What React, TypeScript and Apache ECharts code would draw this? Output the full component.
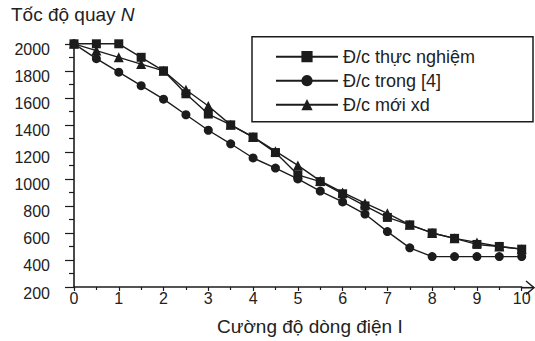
import React, { useEffect, useRef } from "react";
import * as echarts from "echarts";

const currentI = [0, 0.5, 1, 1.5, 2, 2.5, 3, 3.5, 4, 4.5, 5, 5.5, 6, 6.5, 7, 7.5, 8, 8.5, 9, 9.5, 10];
const thucNghiem = [2000, 2000, 2000, 1900, 1800, 1630, 1480, 1400, 1310, 1195, 1030, 980, 890, 800, 715, 660, 600, 560, 515, 500, 480];
const trong4 = [2000, 1890, 1790, 1690, 1590, 1475, 1360, 1260, 1155, 1080, 1000, 910, 830, 740, 610, 490, 425, 425, 425, 425, 425];
const moiXd = [2000, 1950, 1900, 1850, 1800, 1660, 1540, 1400, 1310, 1205, 1100, 985, 900, 820, 745, 660, 600, 560, 530, 500, 480];

const seriesNames = ["Đ/c thực nghiệm", "Đ/c trong [4]", "Đ/c mới xd"];
const yTitle = "Tốc độ quay {i|N}";
const xTitle = "Cường độ dòng điện I";

const INK = "#1c1c1c";
const FONT = "'Liberation Sans', Arial, sans-serif";

export default function App() {
  const ref = useRef<HTMLDivElement>(null);
  useEffect(() => {
    if (!ref.current) return;
    const chart = echarts.init(ref.current, undefined, { renderer: "svg" });
    const mk = (name: string, vals: number[], symbol: string, size: number) => ({
      name,
      type: "line",
      data: currentI.map((x, i) => [x, vals[i]]),
      symbol,
      symbolSize: size,
      showAllSymbol: true,
      itemStyle: { color: INK },
      lineStyle: { color: INK, width: 1.4 },
      emphasis: { disabled: true },
    });
    chart.setOption({
      animation: false,
      backgroundColor: "#ffffff",
      textStyle: { fontFamily: FONT, color: "#222" },
      title: {
        text: yTitle,
        left: 11,
        top: 5,
        padding: 0,
        textStyle: {
          fontFamily: FONT,
          fontSize: 19,
          fontWeight: "normal",
          color: "#222",
          rich: { i: { fontStyle: "italic", fontSize: 19, fontFamily: FONT, color: "#222" } },
        },
      },
      grid: { left: 74, right: 13.3, top: 43.8, bottom: 53.3, containLabel: false },
      legend: {
        orient: "vertical",
        left: 275,
        top: 47.7,
        padding: 0,
        itemWidth: 62,
        itemHeight: 14,
        itemGap: 6,
        selectedMode: false,
        textStyle: { fontFamily: FONT, fontSize: 18, color: "#222", lineHeight: 18 },
        data: seriesNames,
      },
      xAxis: {
        type: "value",
        min: 0,
        max: 10,
        interval: 1,
        name: xTitle,
        nameLocation: "middle",
        nameGap: 30,
        nameTextStyle: { fontFamily: FONT, fontSize: 19, color: "#222", padding: [0, 0, 0, 24] },
        axisLine: { show: true, lineStyle: { color: INK, width: 1.6 } },
        axisTick: { show: true, length: 4, lineStyle: { color: INK, width: 1.2 } },
        minorTick: { show: true, splitNumber: 2, length: 3, lineStyle: { color: INK, width: 1.2 } },
        splitLine: { show: false },
        axisLabel: { fontFamily: FONT, fontSize: 16, color: "#222", margin: 3 },
      },
      yAxis: {
        type: "value",
        min: 200,
        max: 2000,
        interval: 200,
        axisLine: { show: true, lineStyle: { color: INK, width: 1.6 } },
        axisTick: { show: true, length: 9, lineStyle: { color: INK, width: 1.2 } },
        minorTick: { show: true, splitNumber: 2, length: 5, lineStyle: { color: INK, width: 1.2 } },
        splitLine: { show: false },
        axisLabel: {
          fontFamily: FONT,
          fontSize: 16,
          color: "#222",
          margin: 24,
          verticalAlign: "top",
          lineHeight: 12,
          formatter: (v: number) => String(v),
        },
      },
      graphic: [
        {
          type: "rect",
          shape: { x: 252, y: 36.7, width: 281, height: 85 },
          style: { fill: "none", stroke: INK, lineWidth: 1.5 },
          silent: true,
        },
        {
          type: "polyline",
          shape: { points: [[521, 287.7], [534, 287.7]] },
          style: { fill: "none", stroke: INK, lineWidth: 1.6 },
          silent: true,
        },
        {
          type: "polyline",
          shape: { points: [[526, 281], [534, 287.7], [526, 294.4]] },
          style: { fill: "none", stroke: INK, lineWidth: 1.4 },
          silent: true,
        },
      ],
      series: [
        mk(seriesNames[0], thucNghiem, "rect", 9),
        mk(seriesNames[1], trong4, "circle", 9),
        mk(seriesNames[2], moiXd, "triangle", 10),
      ],
    });
    return () => chart.dispose();
  }, []);
  return (
    <div
      ref={ref}
      style={{ position: "fixed", left: 0, top: 0, width: 535, height: 341 }}
    />
  );
}
